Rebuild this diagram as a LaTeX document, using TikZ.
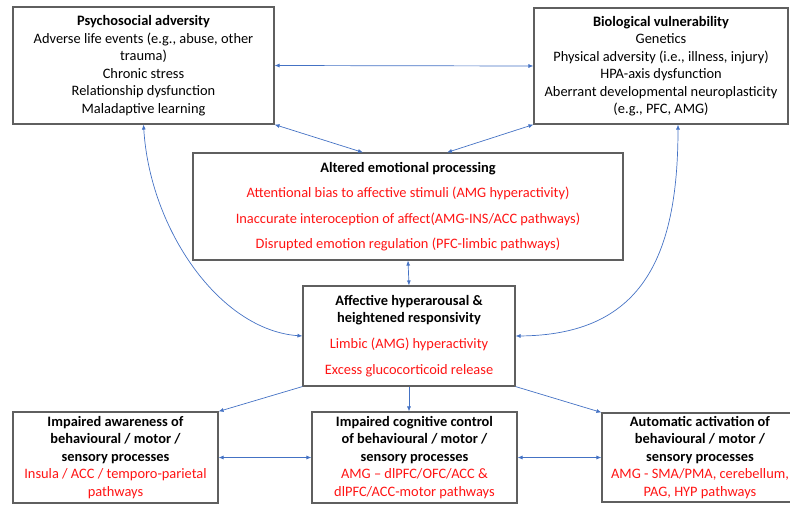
\documentclass[tikz,border=0pt]{standalone}
\usepackage{fontspec}
\setmainfont{Carlito}
\usetikzlibrary{arrows.meta}
\definecolor{linkblue}{RGB}{68,114,196}
\definecolor{boxgray}{RGB}{95,95,95}
\definecolor{txtred}{RGB}{255,20,20}
\newcommand{\rd}[1]{\textcolor{txtred}{#1}}

\begin{document}
\begin{tikzpicture}[x=1pt,y=-1pt,
    box/.style={draw=boxgray, line width=1.1pt, align=center, inner sep=0pt,
        font=\fontsize{14.4}{17.5}\selectfont},
    link/.style={linkblue, line width=0.7pt, -{Latex[length=5pt,width=4pt]}},
    both/.style={link, {Latex[length=5pt,width=4pt]}-{Latex[length=5pt,width=4pt]}}]
    \useasboundingbox (0,0) rectangle (790,504);

    % boxes
    \node[box, minimum width=261pt, minimum height=117pt] (psy) at (143.5,65.5)
        {\textbf{Psychosocial adversity}\\Adverse life events (e.g., abuse, other\\trauma)\\Chronic stress\\Relationship dysfunction\\Maladaptive learning};
    \node[box, minimum width=254pt, minimum height=116pt] (bio) at (661,66)
        {\textbf{Biological vulnerability}\\Genetics\\Physical adversity (i.e., illness, injury)\\HPA-axis dysfunction\\Aberrant developmental neuroplasticity\\(e.g., PFC, AMG)};
    \node[box, minimum width=430pt, minimum height=107pt] (alt) at (408,206.5)
        {\textbf{Altered emotional processing}\\[8pt]
         \rd{Attentional bias to affective stimuli (AMG hyperactivity)}\\[8pt]
         \rd{Inaccurate interoception of affect(AMG-INS/ACC pathways)}\\[8pt]
         \rd{Disrupted emotion regulation (PFC-limbic pathways)}};
    \node[box, minimum width=212pt, minimum height=100pt] (aff) at (409,336)
        {\textbf{Affective hyperarousal \&}\\\textbf{heightened responsivity}\\[8pt]
         \rd{Limbic (AMG) hyperactivity}\\[9pt]
         \rd{Excess glucocorticoid release}};
    \node[box, minimum width=205pt, minimum height=91pt] (awa) at (115.5,457.5)
        {\textbf{Impaired awareness of}\\\textbf{behavioural / motor /}\\\textbf{sensory processes}\\
         \rd{Insula / ACC / temporo-parietal}\\\rd{pathways}};
    \node[box, minimum width=205pt, minimum height=91pt] (cog) at (414.5,457.5)
        {\textbf{Impaired cognitive control}\\\textbf{of behavioural / motor /}\\\textbf{sensory processes}\\
         \rd{AMG -- dlPFC/OFC/ACC \&}\\\rd{dlPFC/ACC-motor pathways}};
    \node[box, minimum width=196pt, minimum height=89pt] (aut) at (700,457.5)
        {\textbf{Automatic activation of}\\\textbf{behavioural / motor /}\\\textbf{sensory processes}\\
         \rd{AMG - SMA/PMA, cerebellum,}\\\rd{PAG, HYP pathways}};

    % connectors
    \draw[both] (psy.east) -- (bio.west);
    \draw[both] (psy.south east) -- ([xshift=-45pt]alt.north);
    \draw[both] (bio.south west) -- ([xshift=39pt]alt.north);
    \draw[both] (psy.south) .. controls (150,230) and (220,330) .. (aff.west);
    \draw[both] ([xshift=17pt]bio.south) .. controls (678,260) and (640,335) .. (aff.east);
    \draw[both] (alt.south) -- (aff.north);
    \draw[link] (aff.south west) -- (awa.north east);
    \draw[link] (aff.south) -- (aff.south |- cog.north);
    \draw[link] (aff.south east) -- (aut.north west);
    \draw[both] (awa.east) -- (cog.west);
    \draw[both] (cog.east) -- (aut.west);
\end{tikzpicture}
\end{document}
